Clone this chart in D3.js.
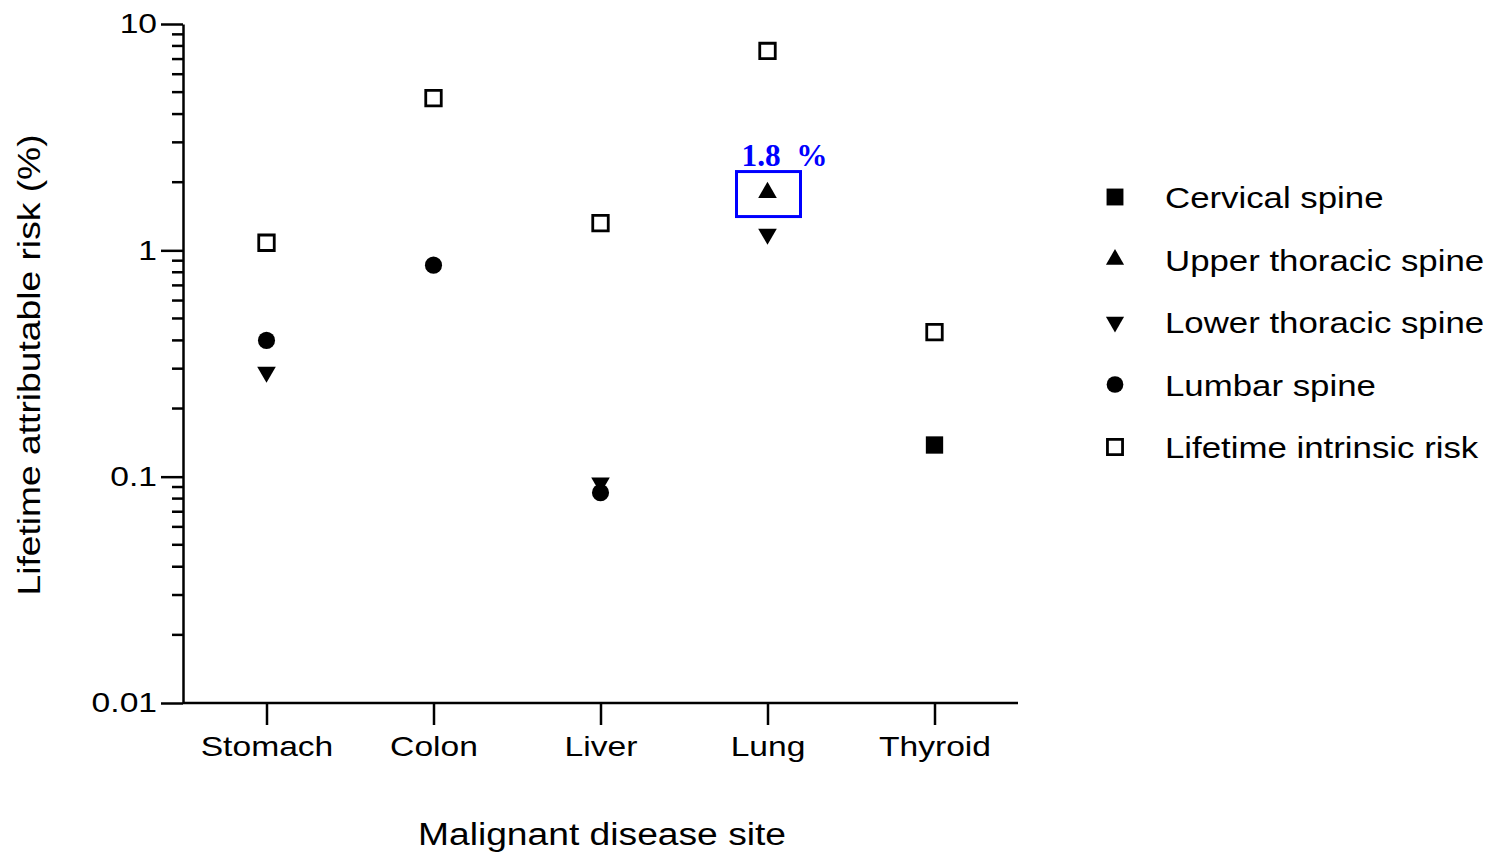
<!DOCTYPE html>
<html>
<head>
<meta charset="utf-8">
<script src="https://cdn.jsdelivr.net/npm/d3@7"></script>
<style>
  body { margin: 0; background: #fff; }
  svg { font-family: "Liberation Sans", Arial, sans-serif; }
</style>
</head>
<body>
<svg width="1496" height="853"></svg>
<script>
let sites    = ["Stomach", "Colon", "Liver", "Lung", "Thyroid"];
let yTicks   = [0.01, 0.1, 1, 10];
let yLabels  = ["0.01", "0.1", "1", "10"];

// one array per series, null where the site has no value
let cervical     = [null, null, null, null, 0.138];
let upperThor    = [null, null, null, 1.8, null];
let lowerThor    = [0.29, null, 0.094, 1.18, null];
let lumbar       = [0.40, 0.86, 0.085, null, null];
let intrinsic    = [1.08, 4.7, 1.32, 7.6, 0.435];

let series = [
    {name: "Cervical spine",        values: cervical,  shape: "sq"},
    {name: "Upper thoracic spine",  values: upperThor, shape: "up"},
    {name: "Lower thoracic spine",  values: lowerThor, shape: "down"},
    {name: "Lumbar spine",          values: lumbar,    shape: "circ"},
    {name: "Lifetime intrinsic risk", values: intrinsic, shape: "open"}
];

let LEFT = 183, RIGHT = 1018, TOP = 24, BOTTOM = 703;
let STRETCH = 1.2;   // the original lettering is wider than Liberation Sans

let svg = d3.select("svg");

let x = d3.scalePoint().domain(sites).range([LEFT, RIGHT]).padding(0.5);
let y = d3.scaleLog().domain([0.01, 10]).range([BOTTOM, TOP]);

// minor ticks
let minor = [];
[0.01, 0.1, 1].forEach(function (d) {
    for (let k = 2; k <= 9; k++) minor.push(d * k);
});
svg.append("g").selectAll("line").data(minor).enter().append("line")
   .attr("x1", LEFT - 11).attr("x2", LEFT)
   .attr("y1", d => y(d)).attr("y2", d => y(d))
   .attr("stroke", "#000").attr("stroke-width", 2.5);

// y axis
let yAxis = d3.axisLeft(y).tickValues(yTicks)
              .tickFormat((d, i) => yLabels[i]).tickSize(22).tickSizeOuter(0).tickPadding(4);
let gy = svg.append("g").attr("transform", "translate(" + LEFT + ",0)").call(yAxis);
gy.select(".domain").attr("stroke-width", 2.5);
gy.selectAll(".tick line").attr("stroke-width", 2.5);
gy.selectAll(".tick text").attr("font-size", 28).attr("fill", "#000")
  .attr("font-family", "Liberation Sans, Arial, sans-serif").classed("wide", true);

// x axis
let xAxis = d3.axisBottom(x).tickSize(22).tickSizeOuter(0).tickPadding(11);
let gx = svg.append("g").attr("transform", "translate(0," + BOTTOM + ")").call(xAxis);
gx.select(".domain").attr("stroke-width", 2.5).attr("d", "M" + LEFT + ",0H" + RIGHT);
gx.selectAll(".tick line").attr("stroke-width", 2.5);
gx.selectAll(".tick text").attr("font-size", 28).attr("fill", "#000")
  .attr("font-family", "Liberation Sans, Arial, sans-serif").classed("wide", true);

// axis titles
svg.append("text").attr("class", "wide").attr("x", 602).attr("y", 845)
   .attr("text-anchor", "middle").attr("font-size", 31).text("Malignant disease site");
svg.append("text").attr("class", "wide").attr("transform", "translate(40,365) rotate(-90)")
   .attr("text-anchor", "middle").attr("font-size", 31).text("Lifetime attributable risk (%)");

function marker(sel, shape, scale) {
    scale = scale || 1;
    if (shape === "sq") {
        sel.append("path").attr("d", d3.symbol(d3.symbolSquare, 300 * scale)()).attr("fill", "#000");
    } else if (shape === "open") {
        sel.append("path").attr("d", d3.symbol(d3.symbolSquare, 240 * scale)())
           .attr("fill", "#fff").attr("stroke", "#000").attr("stroke-width", 2.8);
    } else if (shape === "circ") {
        sel.append("path").attr("d", d3.symbol(d3.symbolCircle, 230 * scale)()).attr("fill", "#000");
    } else if (shape === "up") {
        sel.append("path").attr("d", d3.symbol(d3.symbolTriangle, 150 * scale)()).attr("fill", "#000");
    } else if (shape === "down") {
        sel.append("path").attr("d", d3.symbol(d3.symbolTriangle, 150 * scale)())
           .attr("transform", "rotate(180)").attr("fill", "#000");
    }
}

// points
series.forEach(function (s) {
    let pts = s.values.map((v, i) => ({site: sites[i], v: v})).filter(d => d.v !== null);
    svg.append("g").selectAll("g").data(pts).enter().append("g")
       .attr("transform", d => "translate(" + x(d.site) + "," + y(d.v) + ")")
       .each(function () { marker(d3.select(this), s.shape); });
});

// highlight on the Lung upper thoracic value
let hx = x("Lung"), hy = y(upperThor[3]);
svg.append("rect").attr("x", hx - 31).attr("y", hy - 21).attr("width", 64).attr("height", 45)
   .attr("fill", "none").attr("stroke", "#0000ff").attr("stroke-width", 3);
svg.append("text").attr("x", hx - 26).attr("y", hy - 27)
   .attr("font-family", "Liberation Serif, Times New Roman, serif").attr("font-weight", "bold")
   .attr("font-size", 31).attr("fill", "#0000ff").attr("xml:space", "preserve")
   .attr("textLength", 86).attr("lengthAdjust", "spacingAndGlyphs")
   .text(upperThor[3].toFixed(1) + "  %");

// legend
let lg = svg.append("g").selectAll("g").data(series).enter().append("g")
            .attr("transform", (d, i) => "translate(1115," + (197 + i * 62.5) + ")");
lg.each(function (d) { marker(d3.select(this), d.shape, 0.95); });
lg.append("text").attr("class", "wide").attr("x", 50).attr("y", 11).attr("font-size", 29)
  .attr("fill", "#000").text(d => d.name);

// widen lettering to match the original
svg.selectAll("text.wide").each(function () {
    let len = this.getComputedTextLength();
    d3.select(this).attr("textLength", len * STRETCH).attr("lengthAdjust", "spacingAndGlyphs");
});
</script>
</body>
</html>
